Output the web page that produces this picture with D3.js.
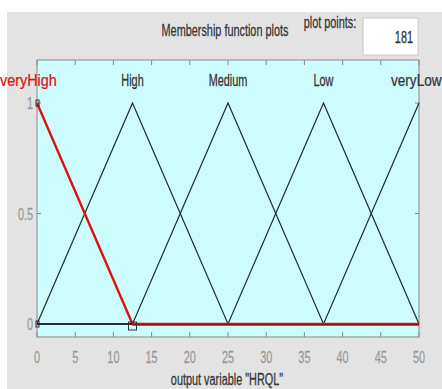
<!DOCTYPE html>
<html><head><meta charset="utf-8">
<script src="https://cdn.jsdelivr.net/npm/d3@7"></script>
<style>
html,body{margin:0;padding:0;background:#fff;}
text{font-family:"Liberation Sans",Arial,sans-serif;}
</style></head>
<body><svg id="c" width="442" height="389"></svg>
<script>
const mfNames = ["veryHigh","High","Medium","Low","veryLow"];
const mfParams = [[-12.5,0,12.5],[0,12.5,25],[12.5,25,37.5],[25,37.5,50],[37.5,50,62.5]];
const xTicks = [0,5,10,15,20,25,30,35,40,45,50];
const yTicks = [0,0.5,1];
const yTickLabels = ["0","0.5","1"];
const selected = 0;
const title = "Membership function plots";
const xLabel = 'output variable "HRQL"';
const plotPointsLabel = "plot points:";
const plotPoints = "181";

const svg = d3.select("#c");
const SX = 0.68;
function txt(xp, yp, s, anchor, size, fill, sx){
  return svg.append("text").attr("transform",`translate(${xp},${yp}) scale(${sx||SX},1)`)
    .attr("text-anchor",anchor).attr("font-size",size).attr("fill",fill)
    .attr("stroke",fill).attr("stroke-width",0.25).text(s);
}
svg.append("rect").attr("x",7).attr("y",12).attr("width",435).attr("height",377).attr("fill","#e3e3e3");

const L=37,R=419,T=60,B=337;
const x = d3.scaleLinear().domain([0,50]).range([L,R]);
const y = d3.scaleLinear().domain([0,1]).range([324,103]);

svg.append("rect").attr("x",L).attr("y",T).attr("width",R-L).attr("height",B-T)
  .attr("fill","#ccfcfc").attr("stroke","#8a8a8a").attr("stroke-width",1);

// ticks
const g = svg.append("g").attr("stroke","#8a8a8a").attr("stroke-width",1);
xTicks.forEach(t=>{
  g.append("line").attr("x1",x(t)).attr("x2",x(t)).attr("y1",B).attr("y2",B-5);
  g.append("line").attr("x1",x(t)).attr("x2",x(t)).attr("y1",T).attr("y2",T+5);
});
yTicks.forEach(t=>{
  g.append("line").attr("x1",L).attr("x2",L+4).attr("y1",y(t)).attr("y2",y(t));
  g.append("line").attr("x1",R).attr("x2",R-4).attr("y1",y(t)).attr("y2",y(t));
});
xTicks.forEach(t=>txt(x(t),363,String(t),"middle",16,"#9a9a9a"));
yTicks.forEach((t,i)=>txt(L-4,y(t)+6,yTickLabels[i],"end",16,"#9a9a9a"));

function pts(p){
  const xs=[0,50,...p].filter(v=>v>=0&&v<=50).sort((a,b)=>a-b);
  const uniq=[...new Set(xs)];
  return uniq.map(v=>{
    let m;
    if(v<=p[0]||v>=p[2]) m=0;
    else if(v<=p[1]) m=(v-p[0])/(p[1]-p[0]);
    else m=(p[2]-v)/(p[2]-p[1]);
    return [v,m];
  });
}
const line = d3.line().x(d=>x(d[0])).y(d=>y(d[1]));
mfParams.forEach((p,i)=>{
  if(i===selected) return;
  svg.append("path").attr("d",line(pts(p))).attr("fill","none").attr("stroke","#1e2a2a").attr("stroke-width",1.2);
});
const sp = pts(mfParams[selected]);
svg.append("path").attr("d",line(sp)).attr("fill","none").attr("stroke","#e01010").attr("stroke-width",2.4);
svg.append("line").attr("x1",x(0)).attr("x2",x(mfParams[selected][2])).attr("y1",y(0)).attr("y2",y(0))
  .attr("stroke","#1e2a2a").attr("stroke-width",1.5);
svg.append("line").attr("x1",x(mfParams[selected][2])).attr("x2",x(50)).attr("y1",y(0)+1).attr("y2",y(0)+1)
  .attr("stroke","#5a0000").attr("stroke-width",1);
// vertex markers
svg.append("rect").attr("x",x(mfParams[selected][2])-4).attr("y",y(0)-2).attr("width",8).attr("height",8)
   .attr("fill","none").attr("stroke","#333").attr("stroke-width",1);
[[0,1],[0,0]].forEach(d=>{
  svg.append("rect").attr("x",x(d[0])-1).attr("y",y(d[1])-3).attr("width",3).attr("height",6)
   .attr("fill","none").attr("stroke","#333").attr("stroke-width",1);
});

// MF labels
mfNames.forEach((n,i)=>{
  if(i===0) txt(0,86,n,"start",16,"#e01010",0.9);
  else if(i===4) txt(391,86,n,"start",16,"#333",0.85);
  else txt(x(mfParams[i][1]),86,n,"middle",16, i===selected?"#e01010":"#333");
});

txt(225,36,title,"middle",16,"#333");
txt(330,28,plotPointsLabel,"middle",16,"#333");
svg.append("rect").attr("x",363).attr("y",18).attr("width",55).attr("height",37).attr("fill","#fff").attr("stroke","#c8c8c8");
txt(413,43,plotPoints,"end",16,"#333");
txt(227,385,xLabel,"middle",16,"#333");
</script></body></html>
